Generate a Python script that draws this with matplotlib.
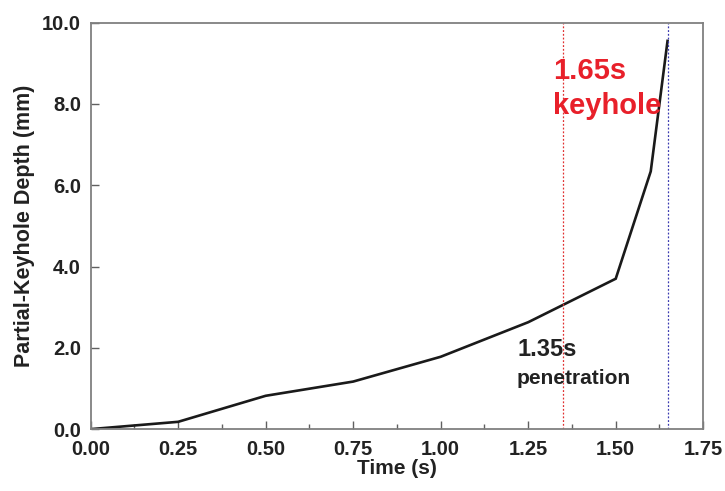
import numpy as np
import matplotlib.pyplot as plt
from matplotlib.ticker import MultipleLocator

plt.rcParams['font.family'] = ['Liberation Sans', 'DejaVu Sans']

# partial-keyhole depth vs. time
time_s = [0.0, 0.25, 0.50, 0.75, 1.00, 1.25, 1.50, 1.60, 1.648]
depth_mm = [0.0, 0.18, 0.82, 1.17, 1.78, 2.63, 3.70, 6.34, 9.55]

t_penetration = 1.35
t_keyhole = 1.65

fig = plt.figure(figsize=(7.25, 4.91), dpi=100)
ax = fig.add_axes([0.125, 0.126, 0.845, 0.828])

ax.plot(time_s, depth_mm, color='#1a1a1a', lw=1.9, solid_joinstyle='miter')
ax.axvline(t_penetration, color='#e03030', lw=0.9, ls=(0, (1.5, 1.5)))
ax.axvline(t_keyhole, color='#3a3ab0', lw=0.9, ls=(0, (1.5, 1.5)))

ax.text(1.32, 8.80, '1.65s', color='#e8202a', fontsize=21,
        fontweight='bold', va='center', ha='left')
ax.text(1.32, 7.95, 'keyhole', color='#e8202a', fontsize=21,
        fontweight='bold', va='center', ha='left')
ax.text(1.218, 1.97, '1.35s', color='#222222', fontsize=17,
        fontweight='bold', va='center', ha='left')
ax.text(1.218, 1.25, 'penetration', color='#222222', fontsize=15,
        fontweight='bold', va='center', ha='left')

ax.set_xlim(0, 1.75)
ax.set_ylim(0, 10)
ax.xaxis.set_major_locator(MultipleLocator(0.25))
ax.xaxis.set_minor_locator(MultipleLocator(0.125))
ax.yaxis.set_major_locator(MultipleLocator(2))
ax.xaxis.set_major_formatter(plt.FuncFormatter(lambda v, p: f'{v:.2f}'))
ax.yaxis.set_major_formatter(plt.FuncFormatter(lambda v, p: f'{v:.1f}'))

for s in ax.spines.values():
    s.set_color('#808080')
    s.set_linewidth(1.3)
ax.tick_params(which='both', direction='in', color='#606060', top=False, right=False)
ax.tick_params(which='major', length=6, width=1.0, labelsize=14.5)
ax.tick_params(axis='x', which='major', pad=8)
ax.tick_params(axis='y', which='major', pad=7)
ax.tick_params(which='minor', length=3.5, width=1.0)
for lbl in ax.get_xticklabels() + ax.get_yticklabels():
    lbl.set_fontweight('bold')
    lbl.set_color('#222222')

ax.set_xlabel('Time (s)', fontsize=15, fontweight='bold', color='#222222', labelpad=0)
ax.set_ylabel('Partial-Keyhole Depth (mm)', fontsize=15.5, fontweight='bold',
              color='#222222', labelpad=5)

fig.savefig('out.png', dpi=100)
